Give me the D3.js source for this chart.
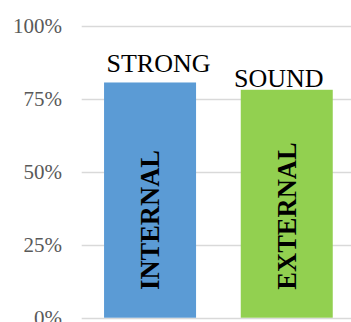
<!DOCTYPE html>
<html>
<head>
<meta charset="utf-8">
<script src="https://cdn.jsdelivr.net/npm/d3@7"></script>
<style>
  html, body { margin: 0; padding: 0; background: #fff; }
  svg { display: block; }
</style>
</head>
<body>
<div id="chart"></div>
<script>
// Chart data
const categories = ["INTERNAL", "EXTERNAL"];
const values = [0.805, 0.78];
const topLabels = ["STRONG", "SOUND"];
const barColors = ["#5b9bd5", "#92d050"];
const tickValues = [0, 0.25, 0.5, 0.75, 1];

const W = 351, H = 322;
const svg = d3.select("#chart").append("svg")
  .attr("width", W).attr("height", H);

const x = d3.scaleBand()
  .domain(categories)
  .range([81.7, 355.1])
  .paddingInner(0.327)
  .paddingOuter(0.1635);

const y = d3.scaleLinear()
  .domain([0, 1])
  .range([317.7, 25.5]);

// Horizontal gridlines
svg.append("g")
  .selectAll("line")
  .data(tickValues)
  .join("line")
  .attr("x1", 81.7).attr("x2", W)
  .attr("y1", d => Math.round(y(d)) + 0.5)
  .attr("y2", d => Math.round(y(d)) + 0.5)
  .attr("stroke", "#d9d9d9")
  .attr("stroke-width", 1.5);

// Y axis tick labels
const yAxis = d3.axisLeft(y)
  .tickValues(tickValues)
  .tickFormat(d3.format(".0%"))
  .tickSize(0)
  .tickPadding(0);
const gy = svg.append("g")
  .attr("transform", "translate(62,0)")
  .call(yAxis);
gy.select(".domain").remove();
gy.selectAll("text")
  .attr("font-family", "'Liberation Serif', 'Times New Roman', serif")
  .attr("font-size", 21)
  .attr("fill", "#595959");

// Bars
svg.append("g")
  .selectAll("rect")
  .data(categories)
  .join("rect")
  .attr("x", d => x(d))
  .attr("width", x.bandwidth())
  .attr("y", (d, i) => y(values[i]))
  .attr("height", (d, i) => y(0) - y(values[i]))
  .attr("fill", (d, i) => barColors[i]);

// Labels above bars (nudged as placed in the layout)
const topNudge = [[8.5, -10], [-8, -3]];
svg.append("g")
  .selectAll("text")
  .data(topLabels)
  .join("text")
  .attr("x", (d, i) => x(categories[i]) + x.bandwidth() / 2 + topNudge[i][0])
  .attr("y", (d, i) => y(values[i]) + topNudge[i][1])
  .attr("text-anchor", "middle")
  .attr("font-family", "'Liberation Serif', 'Times New Roman', serif")
  .attr("font-size", 26)
  .attr("fill", "#000")
  .text(d => d);

// Rotated category names inside bars
const innerCenterY = [220, 216];
svg.append("g")
  .selectAll("text")
  .data(categories)
  .join("text")
  .attr("transform", (d, i) => {
    const cx = x(d) + x.bandwidth() / 2 + 0.5;
    return `translate(${cx},${innerCenterY[i]}) rotate(-90)`;
  })
  .attr("text-anchor", "middle")
  .attr("dy", "0.33em")
  .attr("font-family", "'Liberation Serif', 'Times New Roman', serif")
  .attr("font-weight", "bold")
  .attr("font-size", 26.5)
  .attr("fill", "#000")
  .text(d => d);
</script>
</body>
</html>
